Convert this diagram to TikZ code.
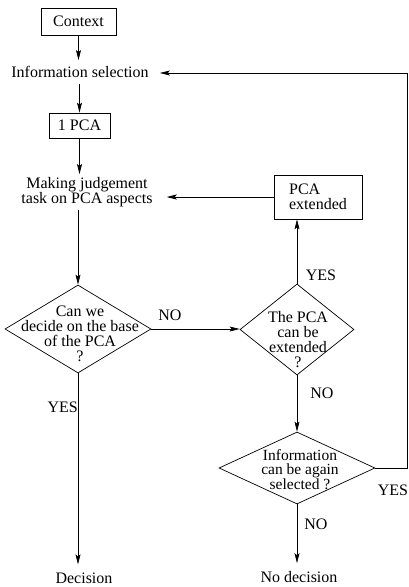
\documentclass[tikz,border=0pt]{standalone}
\usepackage{fontspec}
\setmainfont{Liberation Serif}
\usetikzlibrary{arrows.meta,shapes.geometric}
\begin{document}
\begin{tikzpicture}[x=1pt,y=-1pt,
  every node/.style={font=\fontsize{16}{15}\selectfont},
  line/.style={line width=0.7pt},
  arr/.style={line width=0.7pt,-{Stealth[length=10pt,width=5pt,inset=2pt]}},
  box/.style={draw,line width=0.7pt,rectangle,inner sep=0pt},
  dia/.style={draw,line width=0.7pt,diamond,inner sep=0pt},
  lbl/.style={inner sep=0pt}
]
\useasboundingbox (0,0) rectangle (408,587);

\node[box,minimum width=75pt,minimum height=27pt] (ctx) at (78.5,21.5) {Context};
\node[inner xsep=11pt,inner ysep=6pt] (info) at (80,72) {Information selection};
\node[box,minimum width=61pt,minimum height=25pt] (pca) at (79.5,125.5) {1 PCA};
\node[align=center,inner xsep=14pt,inner ysep=3pt] (judge) at (87,192) {Making judgement\\task on PCA aspects};
\node[box,minimum width=88pt,minimum height=44pt,align=left] (ext) at (318,197) {PCA\\extended};

\node[dia,minimum width=146pt,minimum height=88pt] (d1) at (78,329) {};
\node[align=center,lbl] at (80,334) {Can we\\decide on the base\\of the PCA\\?};
\node[dia,minimum width=114pt,minimum height=91pt] (d2) at (297,329.5) {};
\node[align=center,lbl] at (298,340) {The PCA\\can be\\extended\\?};
\node[dia,minimum width=156pt,minimum height=72pt] (d3) at (297,468) {};
\node[align=center,lbl,font=\fontsize{15.5}{14}\selectfont] at (300,470) {Information\\can be again\\selected ?};

\node[lbl] (dec) at (84,578) {Decision};
\node[lbl] (nodec) at (299,577) {No decision};

\coordinate (rt) at (407,73);

% connectors
\draw[arr] (ctx.south) -- (ctx.south |- info.north);
\draw[arr] (info.south -| pca.north) -- (pca.north);
\draw[arr] (pca.south) -- (pca.south |- judge.north);
\draw[arr] (judge.south -| d1.north) -- (d1.north);
\draw[arr] (d1.east) -- (d1.east -| d2.west);
\draw[arr] (d2.north) -- (d2.north |- ext.south);
\draw[arr] (ext.west) -- (ext.west -| judge.east);
\draw[arr] (d2.south) -- (d3.north);
\draw[arr,shorten >=8pt] (d1.south) -- (d1.south |- dec.north);
\draw[arr,shorten >=8pt] (d3.south) -- (d3.south |- nodec.north);
\draw[arr] (d3.east) -| (rt) -- (rt -| info.east);

% labels
\node[lbl] at (170,315) {NO};
\node[lbl] at (321,275) {YES};
\node[lbl] at (322,393) {NO};
\node[lbl,anchor=east] at (78,407) {YES};
\node[lbl] at (393,490) {YES};
\node[lbl] at (316,524) {NO};
\end{tikzpicture}
\end{document}
